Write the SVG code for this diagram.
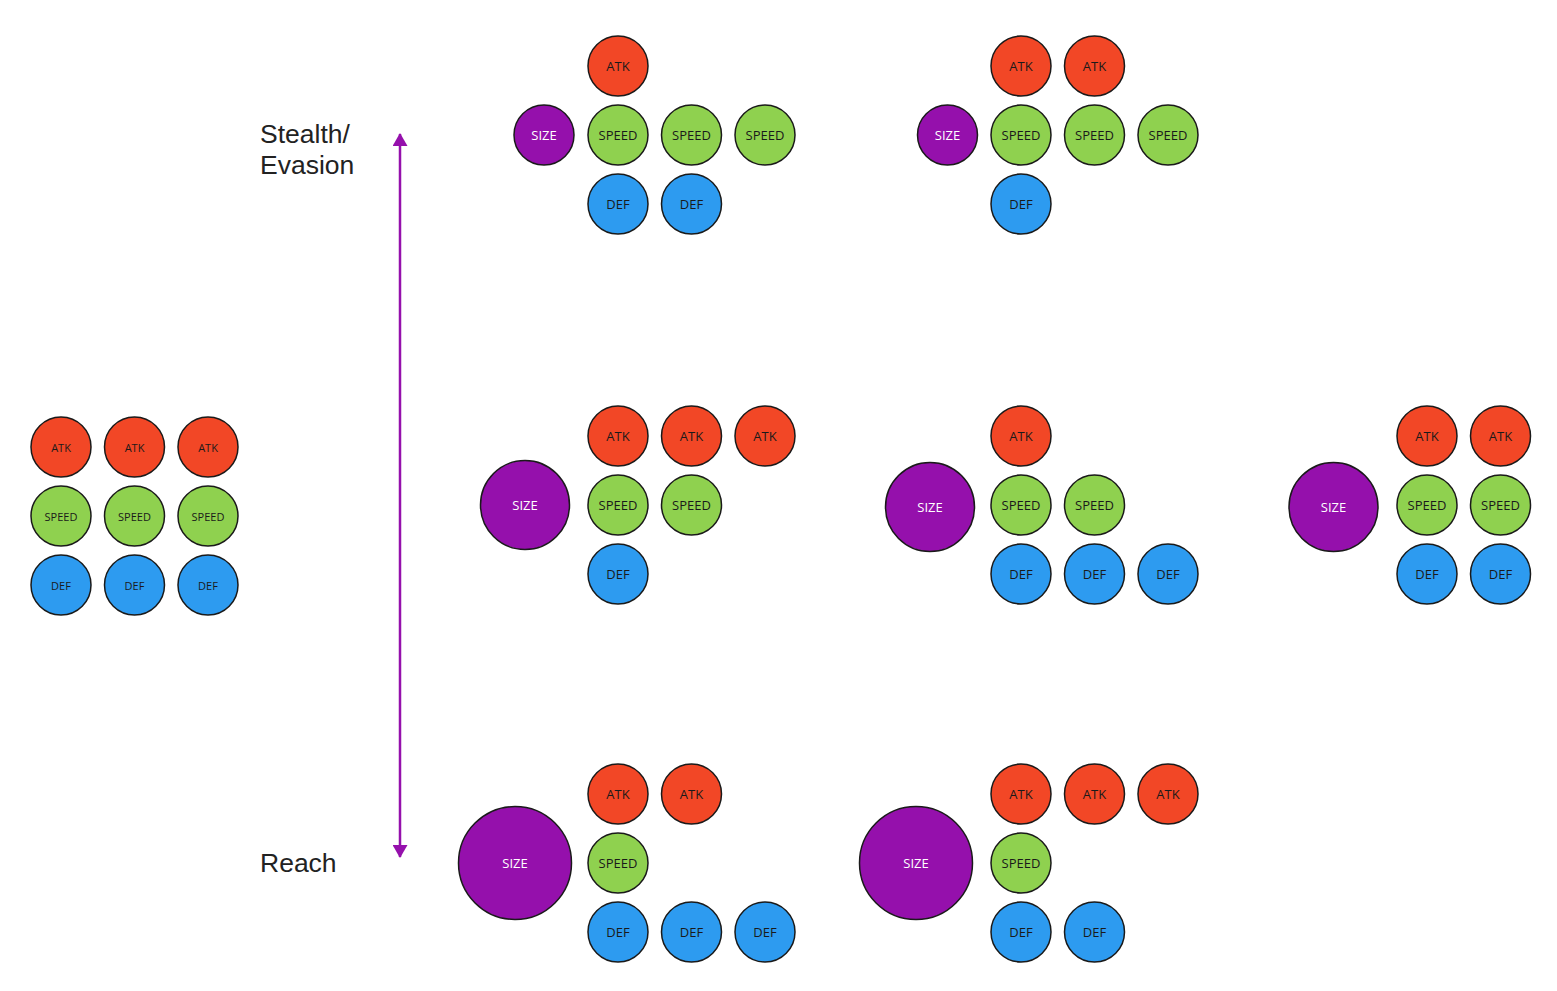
<svg xmlns="http://www.w3.org/2000/svg" width="1557" height="991" viewBox="0 0 1557 991">
<defs>
<style>
circle{stroke:#1a1a1a;stroke-width:1.5}
.atk{fill:#f24726}.spd{fill:#8fd14f}.def{fill:#2d9bf0}.size{fill:#9510ac}
text{font-family:"Open Sans","Noto Sans",sans-serif;font-size:13px;text-anchor:middle;dominant-baseline:central;fill:#1a1a1a}
text.w{fill:#ffffff}
.small text{font-size:11px}
text.lbl{font-family:"Liberation Sans",Arial,sans-serif;font-size:26.5px;text-anchor:start;dominant-baseline:auto;fill:#222}
</style>
<marker id="ah" viewBox="0 0 13 15" refX="12" refY="7.5" markerWidth="13" markerHeight="15" orient="auto-start-reverse" markerUnits="userSpaceOnUse">
<path d="M0,0 L13,7.5 L0,15 z" fill="#9510ac"/>
</marker>
</defs>
<rect width="1557" height="991" fill="#ffffff"/>

<g id="base" class="small">
<circle class="atk" cx="61" cy="447" r="30"/><text x="61" y="447">ATK</text>
<circle class="atk" cx="134.5" cy="447" r="30"/><text x="134.5" y="447">ATK</text>
<circle class="atk" cx="208" cy="447" r="30"/><text x="208" y="447">ATK</text>
<circle class="spd" cx="61" cy="516" r="30"/><text x="61" y="516">SPEED</text>
<circle class="spd" cx="134.5" cy="516" r="30"/><text x="134.5" y="516">SPEED</text>
<circle class="spd" cx="208" cy="516" r="30"/><text x="208" y="516">SPEED</text>
<circle class="def" cx="61" cy="585" r="30"/><text x="61" y="585">DEF</text>
<circle class="def" cx="134.5" cy="585" r="30"/><text x="134.5" y="585">DEF</text>
<circle class="def" cx="208" cy="585" r="30"/><text x="208" y="585">DEF</text>
</g>

<g id="labels">
<text class="lbl" x="260" y="143">Stealth/</text>
<text class="lbl" x="260" y="174">Evasion</text>
<text class="lbl" x="260" y="872">Reach</text>
</g>

<g id="connectors">
<line x1="400" y1="134" x2="400" y2="857" stroke="#9510ac" stroke-width="2.5" marker-start="url(#ah)" marker-end="url(#ah)"/>
</g>

<g id="top-a">
<circle class="atk" cx="618" cy="66" r="30"/><text x="618" y="66">ATK</text>
<circle class="size" cx="544" cy="135" r="30"/><text class="w" x="544" y="135">SIZE</text>
<circle class="spd" cx="618" cy="135" r="30"/><text x="618" y="135">SPEED</text>
<circle class="spd" cx="691.5" cy="135" r="30"/><text x="691.5" y="135">SPEED</text>
<circle class="spd" cx="765" cy="135" r="30"/><text x="765" y="135">SPEED</text>
<circle class="def" cx="618" cy="204" r="30"/><text x="618" y="204">DEF</text>
<circle class="def" cx="691.5" cy="204" r="30"/><text x="691.5" y="204">DEF</text>
</g>

<g id="top-b">
<circle class="atk" cx="1021" cy="66" r="30"/><text x="1021" y="66">ATK</text>
<circle class="atk" cx="1094.5" cy="66" r="30"/><text x="1094.5" y="66">ATK</text>
<circle class="size" cx="947.5" cy="135" r="30"/><text class="w" x="947.5" y="135">SIZE</text>
<circle class="spd" cx="1021" cy="135" r="30"/><text x="1021" y="135">SPEED</text>
<circle class="spd" cx="1094.5" cy="135" r="30"/><text x="1094.5" y="135">SPEED</text>
<circle class="spd" cx="1168" cy="135" r="30"/><text x="1168" y="135">SPEED</text>
<circle class="def" cx="1021" cy="204" r="30"/><text x="1021" y="204">DEF</text>
</g>

<g id="mid-a">
<circle class="atk" cx="618" cy="436" r="30"/><text x="618" y="436">ATK</text>
<circle class="atk" cx="691.5" cy="436" r="30"/><text x="691.5" y="436">ATK</text>
<circle class="atk" cx="765" cy="436" r="30"/><text x="765" y="436">ATK</text>
<circle class="size" cx="525" cy="505" r="44.5"/><text class="w" x="525" y="505">SIZE</text>
<circle class="spd" cx="618" cy="505" r="30"/><text x="618" y="505">SPEED</text>
<circle class="spd" cx="691.5" cy="505" r="30"/><text x="691.5" y="505">SPEED</text>
<circle class="def" cx="618" cy="574" r="30"/><text x="618" y="574">DEF</text>
</g>

<g id="mid-b">
<circle class="atk" cx="1021" cy="436" r="30"/><text x="1021" y="436">ATK</text>
<circle class="size" cx="930" cy="507" r="44.5"/><text class="w" x="930" y="507">SIZE</text>
<circle class="spd" cx="1021" cy="505" r="30"/><text x="1021" y="505">SPEED</text>
<circle class="spd" cx="1094.5" cy="505" r="30"/><text x="1094.5" y="505">SPEED</text>
<circle class="def" cx="1021" cy="574" r="30"/><text x="1021" y="574">DEF</text>
<circle class="def" cx="1094.5" cy="574" r="30"/><text x="1094.5" y="574">DEF</text>
<circle class="def" cx="1168" cy="574" r="30"/><text x="1168" y="574">DEF</text>
</g>

<g id="mid-c">
<circle class="atk" cx="1427" cy="436" r="30"/><text x="1427" y="436">ATK</text>
<circle class="atk" cx="1500.5" cy="436" r="30"/><text x="1500.5" y="436">ATK</text>
<circle class="size" cx="1333.5" cy="507" r="44.5"/><text class="w" x="1333.5" y="507">SIZE</text>
<circle class="spd" cx="1427" cy="505" r="30"/><text x="1427" y="505">SPEED</text>
<circle class="spd" cx="1500.5" cy="505" r="30"/><text x="1500.5" y="505">SPEED</text>
<circle class="def" cx="1427" cy="574" r="30"/><text x="1427" y="574">DEF</text>
<circle class="def" cx="1500.5" cy="574" r="30"/><text x="1500.5" y="574">DEF</text>
</g>

<g id="bot-a">
<circle class="atk" cx="618" cy="794" r="30"/><text x="618" y="794">ATK</text>
<circle class="atk" cx="691.5" cy="794" r="30"/><text x="691.5" y="794">ATK</text>
<circle class="size" cx="515" cy="863" r="56.5"/><text class="w" x="515" y="863">SIZE</text>
<circle class="spd" cx="618" cy="863" r="30"/><text x="618" y="863">SPEED</text>
<circle class="def" cx="618" cy="932" r="30"/><text x="618" y="932">DEF</text>
<circle class="def" cx="691.5" cy="932" r="30"/><text x="691.5" y="932">DEF</text>
<circle class="def" cx="765" cy="932" r="30"/><text x="765" y="932">DEF</text>
</g>

<g id="bot-b">
<circle class="atk" cx="1021" cy="794" r="30"/><text x="1021" y="794">ATK</text>
<circle class="atk" cx="1094.5" cy="794" r="30"/><text x="1094.5" y="794">ATK</text>
<circle class="atk" cx="1168" cy="794" r="30"/><text x="1168" y="794">ATK</text>
<circle class="size" cx="916" cy="863" r="56.5"/><text class="w" x="916" y="863">SIZE</text>
<circle class="spd" cx="1021" cy="863" r="30"/><text x="1021" y="863">SPEED</text>
<circle class="def" cx="1021" cy="932" r="30"/><text x="1021" y="932">DEF</text>
<circle class="def" cx="1094.5" cy="932" r="30"/><text x="1094.5" y="932">DEF</text>
</g>
</svg>
